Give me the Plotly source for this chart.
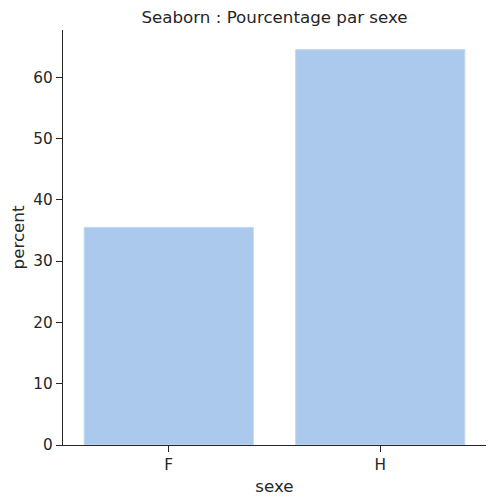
import plotly.graph_objects as go

categories = ["F", "H"]
percent = [35.5, 64.5]

fig = go.Figure(go.Bar(
    x=categories, y=percent, width=0.8,
    marker=dict(color="#abc9ec", line=dict(color="#c4d8f0", width=1)),
))

axis_common = dict(
    showline=True, linecolor="#262626", linewidth=1.25,
    ticks="outside", ticklen=6, tickwidth=1.25, tickcolor="#262626",
    showgrid=False, zeroline=False, automargin=False,
    tickfont=dict(family="DejaVu Sans", size=15.3, color="#262626"),
    title_font=dict(family="DejaVu Sans", size=16.7, color="#262626"),
)

fig.update_layout(
    width=504, height=504, autosize=False,
    margin=dict(l=55, r=26, t=22, b=67),
    paper_bgcolor="white", plot_bgcolor="white",
    title=dict(text="Seaborn : Pourcentage par sexe", x=0.5, xanchor="center",
               xref="paper", y=0.981, yanchor="middle",
               font=dict(family="DejaVu Sans", size=16.7, color="#262626")),
    showlegend=False,
    xaxis=dict(axis_common, title=dict(text="sexe", standoff=6), range=[-0.5, 1.5]),
    yaxis=dict(axis_common, title=dict(text="percent", standoff=8), range=[0, 67.7],
               tickvals=[0, 10, 20, 30, 40, 50, 60]),
)

fig.write_html("out.html")
